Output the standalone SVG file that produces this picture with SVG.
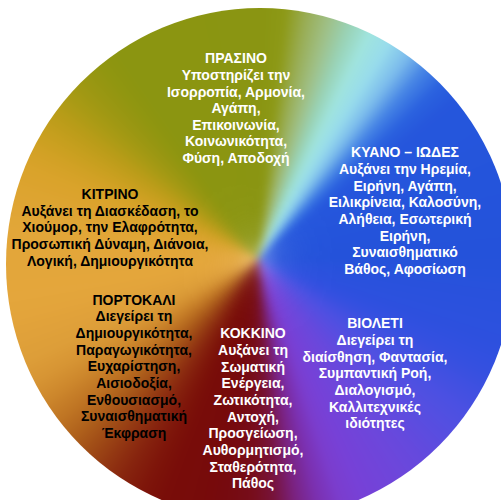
<svg xmlns="http://www.w3.org/2000/svg" width="501" height="500" viewBox="0 0 501 500">
<style>
text{font-family:"Liberation Sans",Arial,"Noto Sans",sans-serif;font-weight:bold;font-size:14px;text-anchor:middle}
.w{fill:#ffffff}
.k{fill:#000000}
</style>
<defs>
<clipPath id="disc"><ellipse cx="260" cy="264" rx="254" ry="256"/></clipPath>
<filter id="soft" x="-10%" y="-10%" width="120%" height="120%" color-interpolation-filters="sRGB"><feGaussianBlur stdDeviation="4.5"/></filter>
<polygon id="w" points="0,0 0,-340 17.8,-339.5"/>
</defs>
<rect width="501" height="500" fill="#ffffff"/>
<g id="wheel" clip-path="url(#disc)">
<g filter="url(#soft)" transform="translate(258 259)">
<use href="#w" fill="#8a9512"/>
<use href="#w" transform="rotate(2.5)" fill="#8b9714"/>
<use href="#w" transform="rotate(5)" fill="#8d9917"/>
<use href="#w" transform="rotate(7.5)" fill="#93a336"/>
<use href="#w" transform="rotate(10)" fill="#99ad55"/>
<use href="#w" transform="rotate(12.5)" fill="#9cb66d"/>
<use href="#w" transform="rotate(15)" fill="#9fbf85"/>
<use href="#w" transform="rotate(17.5)" fill="#9cc89d"/>
<use href="#w" transform="rotate(20)" fill="#99d2b5"/>
<use href="#w" transform="rotate(22.5)" fill="#9cdbc9"/>
<use href="#w" transform="rotate(25)" fill="#a0e4de"/>
<use href="#w" transform="rotate(27.5)" fill="#9ce0e5"/>
<use href="#w" transform="rotate(30)" fill="#98dcec"/>
<use href="#w" transform="rotate(32.5)" fill="#8accec"/>
<use href="#w" transform="rotate(35)" fill="#7cbcec"/>
<use href="#w" transform="rotate(37.5)" fill="#61a0e8"/>
<use href="#w" transform="rotate(40)" fill="#4684e5"/>
<use href="#w" transform="rotate(42.5)" fill="#3873e2"/>
<use href="#w" transform="rotate(45)" fill="#2b62df"/>
<use href="#w" transform="rotate(47.5)" fill="#285cdd"/>
<use href="#w" transform="rotate(50)" fill="#2656dc"/>
<use href="#w" transform="rotate(52.5)" fill="#2556dc"/>
<use href="#w" transform="rotate(55)" fill="#2556dc"/>
<use href="#w" transform="rotate(57.5)" fill="#2556dc"/>
<use href="#w" transform="rotate(60)" fill="#2555dc"/>
<use href="#w" transform="rotate(62.5)" fill="#2555db"/>
<use href="#w" transform="rotate(65)" fill="#2555db"/>
<use href="#w" transform="rotate(67.5)" fill="#2454db"/>
<use href="#w" transform="rotate(70)" fill="#2454db"/>
<use href="#w" transform="rotate(72.5)" fill="#2454db"/>
<use href="#w" transform="rotate(75)" fill="#2453db"/>
<use href="#w" transform="rotate(77.5)" fill="#2453db"/>
<use href="#w" transform="rotate(80)" fill="#2453da"/>
<use href="#w" transform="rotate(82.5)" fill="#2453da"/>
<use href="#w" transform="rotate(85)" fill="#2452da"/>
<use href="#w" transform="rotate(87.5)" fill="#2452da"/>
<use href="#w" transform="rotate(90)" fill="#2552da"/>
<use href="#w" transform="rotate(92.5)" fill="#2652db"/>
<use href="#w" transform="rotate(95)" fill="#2852dc"/>
<use href="#w" transform="rotate(97.5)" fill="#2951dc"/>
<use href="#w" transform="rotate(100)" fill="#2a51dd"/>
<use href="#w" transform="rotate(102.5)" fill="#2b51dd"/>
<use href="#w" transform="rotate(105)" fill="#2c51de"/>
<use href="#w" transform="rotate(107.5)" fill="#2d50de"/>
<use href="#w" transform="rotate(110)" fill="#2f50df"/>
<use href="#w" transform="rotate(112.5)" fill="#3250e0"/>
<use href="#w" transform="rotate(115)" fill="#3550e0"/>
<use href="#w" transform="rotate(117.5)" fill="#3a50e0"/>
<use href="#w" transform="rotate(120)" fill="#4050e1"/>
<use href="#w" transform="rotate(122.5)" fill="#4550e1"/>
<use href="#w" transform="rotate(125)" fill="#4b50e2"/>
<use href="#w" transform="rotate(127.5)" fill="#4f50e1"/>
<use href="#w" transform="rotate(130)" fill="#544fe1"/>
<use href="#w" transform="rotate(132.5)" fill="#584de0"/>
<use href="#w" transform="rotate(135)" fill="#5d4cdf"/>
<use href="#w" transform="rotate(137.5)" fill="#614ade"/>
<use href="#w" transform="rotate(140)" fill="#6649dd"/>
<use href="#w" transform="rotate(142.5)" fill="#6948dc"/>
<use href="#w" transform="rotate(145)" fill="#6d47db"/>
<use href="#w" transform="rotate(147.5)" fill="#6f45da"/>
<use href="#w" transform="rotate(150)" fill="#7244d9"/>
<use href="#w" transform="rotate(152.5)" fill="#7442d8"/>
<use href="#w" transform="rotate(155)" fill="#7741d7"/>
<use href="#w" transform="rotate(157.5)" fill="#793fd2"/>
<use href="#w" transform="rotate(160)" fill="#7b3dcd"/>
<use href="#w" transform="rotate(162.5)" fill="#7b36be"/>
<use href="#w" transform="rotate(165)" fill="#7b30b0"/>
<use href="#w" transform="rotate(167.5)" fill="#7a2998"/>
<use href="#w" transform="rotate(170)" fill="#7a2280"/>
<use href="#w" transform="rotate(172.5)" fill="#781a5d"/>
<use href="#w" transform="rotate(175)" fill="#77133a"/>
<use href="#w" transform="rotate(177.5)" fill="#77102a"/>
<use href="#w" transform="rotate(180)" fill="#770d1b"/>
<use href="#w" transform="rotate(182.5)" fill="#760c16"/>
<use href="#w" transform="rotate(185)" fill="#760b11"/>
<use href="#w" transform="rotate(187.5)" fill="#760a0e"/>
<use href="#w" transform="rotate(190)" fill="#770a0b"/>
<use href="#w" transform="rotate(192.5)" fill="#770b0a"/>
<use href="#w" transform="rotate(195)" fill="#780c0a"/>
<use href="#w" transform="rotate(197.5)" fill="#780c09"/>
<use href="#w" transform="rotate(200)" fill="#790d09"/>
<use href="#w" transform="rotate(202.5)" fill="#7b1109"/>
<use href="#w" transform="rotate(205)" fill="#7e150a"/>
<use href="#w" transform="rotate(207.5)" fill="#821c0c"/>
<use href="#w" transform="rotate(210)" fill="#86230e"/>
<use href="#w" transform="rotate(212.5)" fill="#8c2c10"/>
<use href="#w" transform="rotate(215)" fill="#923612"/>
<use href="#w" transform="rotate(217.5)" fill="#994114"/>
<use href="#w" transform="rotate(220)" fill="#a04c16"/>
<use href="#w" transform="rotate(222.5)" fill="#a85719"/>
<use href="#w" transform="rotate(225)" fill="#b0621c"/>
<use href="#w" transform="rotate(227.5)" fill="#b86c20"/>
<use href="#w" transform="rotate(230)" fill="#c07624"/>
<use href="#w" transform="rotate(232.5)" fill="#c67e28"/>
<use href="#w" transform="rotate(235)" fill="#cd872c"/>
<use href="#w" transform="rotate(237.5)" fill="#d28e30"/>
<use href="#w" transform="rotate(240)" fill="#d79534"/>
<use href="#w" transform="rotate(242.5)" fill="#da9936"/>
<use href="#w" transform="rotate(245)" fill="#dd9e39"/>
<use href="#w" transform="rotate(247.5)" fill="#de9f39"/>
<use href="#w" transform="rotate(250)" fill="#e0a13a"/>
<use href="#w" transform="rotate(252.5)" fill="#e1a23a"/>
<use href="#w" transform="rotate(255)" fill="#e3a43b"/>
<use href="#w" transform="rotate(257.5)" fill="#e3a53b"/>
<use href="#w" transform="rotate(260)" fill="#e4a63c"/>
<use href="#w" transform="rotate(262.5)" fill="#e4a63b"/>
<use href="#w" transform="rotate(265)" fill="#e3a63b"/>
<use href="#w" transform="rotate(267.5)" fill="#e3a63a"/>
<use href="#w" transform="rotate(270)" fill="#e3a63a"/>
<use href="#w" transform="rotate(272.5)" fill="#e3a639"/>
<use href="#w" transform="rotate(275)" fill="#e2a639"/>
<use href="#w" transform="rotate(277.5)" fill="#e1a637"/>
<use href="#w" transform="rotate(280)" fill="#e0a535"/>
<use href="#w" transform="rotate(282.5)" fill="#dea432"/>
<use href="#w" transform="rotate(285)" fill="#dda430"/>
<use href="#w" transform="rotate(287.5)" fill="#dba32d"/>
<use href="#w" transform="rotate(290)" fill="#daa32b"/>
<use href="#w" transform="rotate(292.5)" fill="#d6a228"/>
<use href="#w" transform="rotate(295)" fill="#d2a125"/>
<use href="#w" transform="rotate(297.5)" fill="#cca021"/>
<use href="#w" transform="rotate(300)" fill="#c69f1e"/>
<use href="#w" transform="rotate(302.5)" fill="#bf9d1b"/>
<use href="#w" transform="rotate(305)" fill="#b89c18"/>
<use href="#w" transform="rotate(307.5)" fill="#af9b16"/>
<use href="#w" transform="rotate(310)" fill="#a79a14"/>
<use href="#w" transform="rotate(312.5)" fill="#a09813"/>
<use href="#w" transform="rotate(315)" fill="#9a9712"/>
<use href="#w" transform="rotate(317.5)" fill="#959611"/>
<use href="#w" transform="rotate(320)" fill="#909610"/>
<use href="#w" transform="rotate(322.5)" fill="#8d9510"/>
<use href="#w" transform="rotate(325)" fill="#8b9511"/>
<use href="#w" transform="rotate(327.5)" fill="#8b9511"/>
<use href="#w" transform="rotate(330)" fill="#8b9511"/>
<use href="#w" transform="rotate(332.5)" fill="#8b9511"/>
<use href="#w" transform="rotate(335)" fill="#8b9511"/>
<use href="#w" transform="rotate(337.5)" fill="#8b9511"/>
<use href="#w" transform="rotate(340)" fill="#8b9511"/>
<use href="#w" transform="rotate(342.5)" fill="#8b9511"/>
<use href="#w" transform="rotate(345)" fill="#8b9511"/>
<use href="#w" transform="rotate(347.5)" fill="#8a9511"/>
<use href="#w" transform="rotate(350)" fill="#8a9512"/>
<use href="#w" transform="rotate(352.5)" fill="#8a9512"/>
<use href="#w" transform="rotate(355)" fill="#8a9512"/>
<use href="#w" transform="rotate(357.5)" fill="#8a9512"/>
</g>
</g>
<g id="prasino" class="w">
<text><tspan x="236" y="63.3">ΠΡΑΣΙΝΟ</tspan><tspan x="236" y="79.9">Υποστηρίζει την</tspan><tspan x="236" y="96.5">Ισορροπία, Αρμονία,</tspan><tspan x="236" y="113.1">Αγάπη,</tspan><tspan x="236" y="129.7">Επικοινωνία,</tspan><tspan x="236" y="146.3">Κοινωνικότητα,</tspan><tspan x="236" y="162.9">Φύση, Αποδοχή</tspan></text>
</g>
<g id="kyano" class="w">
<text><tspan x="405" y="157.3">ΚΥΑΝΟ – ΙΩΔΕΣ</tspan><tspan x="405" y="174">Αυξάνει την Ηρεμία,</tspan><tspan x="405" y="190.6">Ειρήνη, Αγάπη,</tspan><tspan x="405" y="207.3">Ειλικρίνεια, Καλοσύνη,</tspan><tspan x="405" y="224">Αλήθεια, Εσωτερική</tspan><tspan x="405" y="240.6">Ειρήνη,</tspan><tspan x="405" y="257.3">Συναισθηματικό</tspan><tspan x="405" y="274">Βάθος, Αφοσίωση</tspan></text>
</g>
<g id="kitrino" class="k">
<text><tspan x="110" y="199">ΚΙΤΡΙΝΟ</tspan><tspan x="110" y="215.7">Αυξάνει τη Διασκέδαση, το</tspan><tspan x="110" y="232.3">Χιούμορ, την Ελαφρότητα,</tspan><tspan x="110" y="249">Προσωπική Δύναμη, Διάνοια,</tspan><tspan x="110" y="265.7">Λογική, Δημιουργικότητα</tspan></text>
</g>
<g id="portokali" class="k">
<text><tspan x="134" y="305">ΠΟΡΤΟΚΑΛΙ</tspan><tspan x="134" y="321.3">Διεγείρει τη</tspan><tspan x="134" y="338">Δημιουργικότητα,</tspan><tspan x="134" y="354.6">Παραγωγικότητα,</tspan><tspan x="134" y="371.3">Ευχαρίστηση,</tspan><tspan x="134" y="388">Αισιοδοξία,</tspan><tspan x="134" y="404.6">Ενθουσιασμό,</tspan><tspan x="134" y="421.3">Συναισθηματική</tspan><tspan x="134" y="438">Έκφραση</tspan></text>
</g>
<g id="kokkino" class="w">
<text><tspan x="253" y="338.3">ΚΟΚΚΙΝΟ</tspan><tspan x="253" y="355">Αυξάνει τη</tspan><tspan x="253" y="371.7">Σωματική</tspan><tspan x="253" y="388.3">Ενέργεια,</tspan><tspan x="253" y="405">Ζωτικότητα,</tspan><tspan x="253" y="421.7">Αντοχή,</tspan><tspan x="253" y="438.3">Προσγείωση,</tspan><tspan x="253" y="455">Αυθορμητισμό,</tspan><tspan x="253" y="471.7">Σταθερότητα,</tspan><tspan x="253" y="488.3">Πάθος</tspan></text>
</g>
<g id="violeti" class="w">
<text><tspan x="375" y="328.3">ΒΙΟΛΕΤΙ</tspan><tspan x="375" y="345">Διεγείρει τη</tspan><tspan x="375" y="361.7">διαίσθηση, Φαντασία,</tspan><tspan x="375" y="378.3">Συμπαντική Ροή,</tspan><tspan x="375" y="395">Διαλογισμό,</tspan><tspan x="375" y="411.7">Καλλιτεχνικές</tspan><tspan x="375" y="428.3">ιδιότητες</tspan></text>
</g>
</svg>
